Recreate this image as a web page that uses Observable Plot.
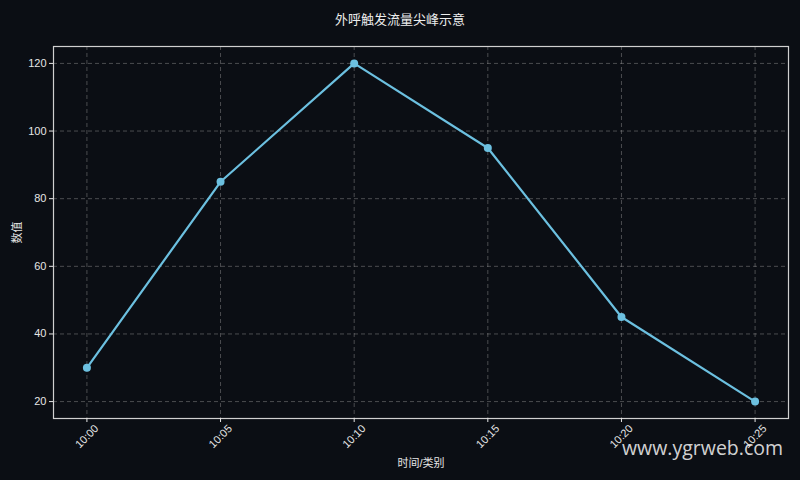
<!DOCTYPE html>
<html><head><meta charset="utf-8">
<script src="https://cdn.jsdelivr.net/npm/d3@7"></script>
<script src="https://cdn.jsdelivr.net/npm/@observablehq/plot@0.6"></script>
<style>
html,body{margin:0;padding:0;background:#0b0e14;width:800px;height:480px;overflow:hidden;font-family:"Liberation Sans","Noto Sans CJK SC",sans-serif;}
#title{height:36px;line-height:37px;text-align:center;color:#ececec;font-size:13px;font-family:"Noto Sans CJK SC","Liberation Sans",sans-serif;letter-spacing:0px;}
#wm{position:absolute;left:622px;top:434px;font-family:"Open Sans",sans-serif;font-size:19.5px;color:rgba(235,235,235,0.9);}
</style></head>
<body>
<div id="title">外呼触发流量尖峰示意</div>
<div id="chart"></div>
<div id="wm">www.ygrweb.com</div>
<script>
const categories = ["10:00","10:05","10:10","10:15","10:20","10:25"];
const values = [30,85,120,95,45,20];
const yTicks = [20,40,60,80,100,120];
const data = categories.map((c,i)=>({t:c, v:values[i]}));
const lineColor = "#6cc0e0";
const fg = "#e6e6e6";
const chart = Plot.plot({
  width:800, height:444,
  marginTop:10, marginBottom:62, marginLeft:53, marginRight:12,
  style:{background:"transparent", color:fg, fontSize:"11px", fontFamily:"'Liberation Sans','Noto Sans CJK SC',sans-serif"},
  x:{type:"point", domain:categories, padding:0.25, round:false},
  y:{domain:[15,125]},
  marks:[
    Plot.gridX(categories,{stroke:"#9a9a9a", strokeOpacity:0.45, strokeDasharray:"4,3"}),
    Plot.gridY(yTicks,{stroke:"#9a9a9a", strokeOpacity:0.45, strokeDasharray:"4,3"}),
    Plot.frame({stroke:"#d0d0d0", strokeWidth:1.2}),
    Plot.axisY(yTicks,{tickSize:4, tickPadding:3, stroke:fg, fill:fg, label:"数值", labelAnchor:"center", labelArrow:"none", labelOffset:40, fontSize:11}),
    Plot.axisX(categories,{tickSize:4, tickRotate:-45, textAnchor:"middle", tickPadding:14, stroke:fg, fill:fg, label:"时间/类别", labelAnchor:"center", labelArrow:"none", labelOffset:48, fontSize:11}),
    Plot.line(data,{x:"t", y:"v", stroke:lineColor, strokeWidth:2.2}),
    Plot.dot(data,{x:"t", y:"v", fill:lineColor, r:4})
  ]
});
document.getElementById("chart").appendChild(chart);
</script>
</body></html>
